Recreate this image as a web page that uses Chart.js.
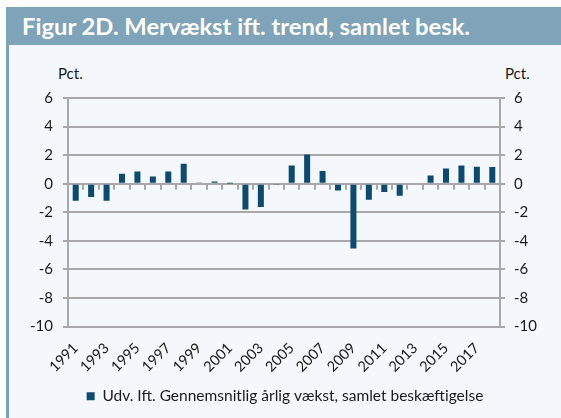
<!DOCTYPE html>
<html><head><meta charset="utf-8">
<script src="https://cdn.jsdelivr.net/npm/chart.js@4.4.0/dist/chart.umd.min.js"></script>
<style>
html,body{margin:0;padding:0;background:#fff;}
#wrap{position:relative;width:561px;height:418px;overflow:hidden;background:#fff;font-family:Lato,"Open Sans",sans-serif;}
#titlebar{position:absolute;left:6px;top:7px;width:555px;height:38px;background:#7fa3b8;}
#title{position:absolute;left:16px;top:0;line-height:38px;color:#fff;font-weight:bold;font-size:23px;white-space:nowrap;transform-origin:left center;}
#leftborder{position:absolute;left:6px;top:45px;width:3px;height:373px;background:#7fa3b8;}
#panel{position:absolute;left:9px;top:45px;width:552px;height:373px;background:#f4f8fc;}
.pct{position:absolute;top:64px;font-size:15px;line-height:18px;color:#1a1a1a;}
canvas{position:absolute;left:0;top:0;}
</style></head>
<body>
<div id="wrap">
  <div id="titlebar"><div id="title">Figur 2D. Mervækst ift. trend, samlet besk.</div></div>
  <div id="leftborder"></div>
  <div id="panel"></div>
  <div class="pct" style="left:58px;">Pct.</div>
  <div class="pct" style="left:505px;">Pct.</div>
  <canvas id="c" width="561" height="418"></canvas>
</div>
<script>
const years = ['1991','1992','1993','1994','1995','1996','1997','1998','1999','2000','2001','2002','2003','2004','2005','2006','2007','2008','2009','2010','2011','2012','2013','2014','2015','2016','2017','2018'];
const values = [-1.2,-0.93,-1.2,0.7,0.86,0.5,0.86,1.4,0.09,0.15,0.02,-1.81,-1.63,-0.1,1.27,2.04,0.88,-0.47,-4.53,-1.12,-0.58,-0.84,0,0.58,1.07,1.27,1.18,1.16];
const yMin = -10, yMax = 6, yStep = 2;
const seriesLabel = 'Udv. Ift. Gennemsnitlig årlig vækst, samlet beskæftigelse';

const gridColor = '#a8a8a8';
const textColor = '#1a1a1a';
const barColor = '#0d4a6f';
const fontFamily = 'Lato, "Open Sans", sans-serif';

// fit title width
const t = document.getElementById('title');
const w = t.getBoundingClientRect().width;
t.style.transform = 'scaleX(' + (448 / w) + ')';

const zeroTicks = {
  id: 'zeroTicks',
  afterDatasetsDraw(chart) {
    const x = chart.scales.x, y = chart.scales.y;
    const y0 = y.getPixelForValue(0);
    const ctx = chart.ctx;
    ctx.save();
    ctx.strokeStyle = gridColor;
    ctx.lineWidth = 2;
    ctx.beginPath();
    for (let i = 1; i < years.length; i++) {
      const px = Math.round((x.getPixelForValue(i - 1) + x.getPixelForValue(i)) / 2);
      ctx.moveTo(px, y0);
      ctx.lineTo(px, y0 + 6);
    }
    ctx.stroke();
    ctx.restore();
  }
};

new Chart(document.getElementById('c'), {
  type: 'bar',
  data: {
    labels: years,
    datasets: [{
      label: seriesLabel,
      data: values,
      backgroundColor: barColor,
      borderWidth: 0,
      barPercentage: 0.39,
      categoryPercentage: 1.0,
      yAxisID: 'y'
    }]
  },
  options: {
    responsive: false,
    animation: false,
    devicePixelRatio: 1,
    layout: { padding: { top: 98, left: 9, right: 0, bottom: 4 } },
    plugins: {
      tooltip: { enabled: false },
      legend: {
        display: true,
        position: 'bottom',
        labels: {
          boxWidth: 8, boxHeight: 8, padding: 6,
          color: textColor,
          font: { family: fontFamily, size: 15.5 }
        }
      }
    },
    scales: {
      x: {
        grid: { display: false, drawTicks: false },
        border: { display: false },
        ticks: {
          autoSkip: false, maxRotation: 45, minRotation: 45,
          padding: 13,
          color: textColor,
          font: { family: fontFamily, size: 14.5 },
          callback: (v, i) => (i % 2 === 0 ? years[i] : '')
        },
        afterFit: s => { s.height = 56; }
      },
      y: {
        position: 'left',
        min: yMin, max: yMax,
        ticks: { stepSize: yStep, padding: 10, color: textColor, font: { family: fontFamily, size: 15 } },
        grid: { color: gridColor, lineWidth: 2, tickLength: 5 },
        border: { display: true, color: gridColor, width: 2 },
        afterFit: s => { s.width = 59; }
      },
      y2: {
        position: 'right',
        min: yMin, max: yMax,
        ticks: { stepSize: yStep, padding: 9, color: textColor, font: { family: fontFamily, size: 15 } },
        grid: { drawOnChartArea: false, color: gridColor, lineWidth: 2, tickLength: 5 },
        border: { display: true, color: gridColor, width: 2 },
        afterFit: s => { s.width = 61; }
      }
    }
  },
  plugins: [zeroTicks]
});
</script>
</body></html>
